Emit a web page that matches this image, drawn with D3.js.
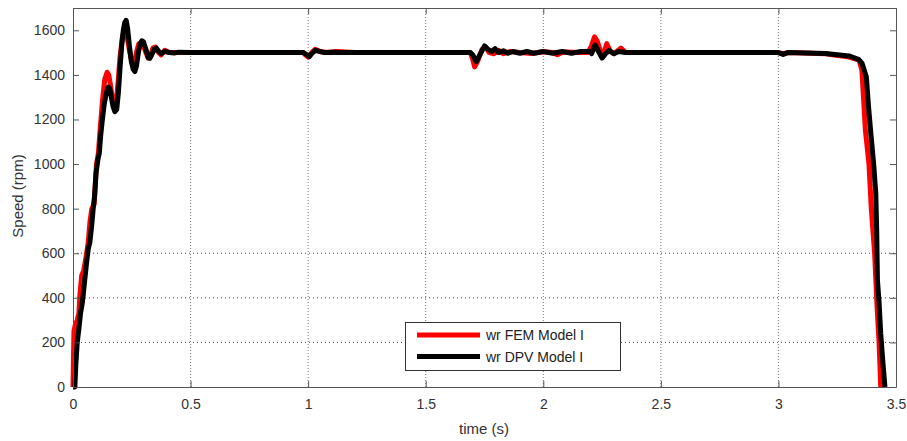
<!DOCTYPE html>
<html><head><meta charset="utf-8">
<script src="https://cdn.jsdelivr.net/npm/d3@7"></script>
<style>body{margin:0;background:#fff}svg{display:block}text{font-family:Arial,"Liberation Sans",sans-serif}</style>
</head><body><svg id="c" width="907" height="441"></svg>
<script>
const xTicks=[0,0.5,1,1.5,2,2.5,3,3.5];
const yTicks=[0,200,400,600,800,1000,1200,1400,1600];
const yGrid=[200,400,600];
const seriesNames=["wr FEM Model I","wr DPV Model I"];
const femT=[0,0.004,0.01,0.018,0.025,0.03,0.037,0.045,0.055,0.065,0.072,0.08,0.09,0.1,0.108,0.115,0.125,0.135,0.145,0.152,0.16,0.168,0.176,0.184,0.192,0.2,0.21,0.218,0.225,0.232,0.24,0.248,0.256,0.264,0.272,0.28,0.29,0.3,0.31,0.32,0.33,0.34,0.35,0.36,0.375,0.39,0.41,0.5,0.98,0.99,1.0,1.015,1.03,1.05,1.08,1.12,1.2,1.69,1.7,1.708,1.72,1.74,1.755,1.77,1.79,1.81,1.83,1.86,1.9,1.95,2.0,2.04,2.06,2.08,2.1,2.15,2.19,2.205,2.218,2.23,2.245,2.255,2.27,2.285,2.3,2.33,2.35,2.4,3.0,3.02,3.04,3.2,3.3,3.343,3.355,3.37,3.385,3.395,3.409,3.42,3.428,3.435];
const femV=[0,250,280,300,330,420,500,520,580,650,740,800,820,1000,1050,1150,1280,1380,1412,1400,1350,1290,1262,1280,1370,1480,1570,1600,1590,1560,1510,1470,1455,1470,1510,1540,1545,1530,1500,1475,1490,1520,1525,1505,1490,1510,1500,1500,1500,1488,1480,1500,1515,1505,1500,1505,1500,1500,1470,1436,1460,1515,1525,1500,1495,1510,1495,1505,1500,1496,1504,1500,1490,1500,1503,1500,1500,1530,1571,1550,1500,1490,1540,1505,1495,1520,1500,1500,1500,1495,1500,1495,1480,1466,1420,1150,1000,800,600,350,200,0];
const dpvT=[0,0.008,0.012,0.018,0.025,0.032,0.04,0.044,0.05,0.058,0.065,0.072,0.08,0.086,0.092,0.098,0.106,0.112,0.118,0.125,0.133,0.142,0.15,0.156,0.163,0.17,0.178,0.186,0.193,0.2,0.207,0.214,0.22,0.226,0.232,0.24,0.248,0.256,0.263,0.27,0.278,0.286,0.293,0.3,0.31,0.32,0.327,0.335,0.345,0.355,0.365,0.375,0.39,0.41,0.43,0.45,0.5,0.98,0.995,1.005,1.015,1.03,1.05,1.07,1.1,1.15,1.2,1.69,1.7,1.715,1.73,1.75,1.765,1.78,1.795,1.81,1.83,1.85,1.87,1.9,1.93,1.96,2.0,2.04,2.08,2.12,2.16,2.2,2.205,2.22,2.235,2.25,2.265,2.28,2.3,2.32,2.35,3.0,3.02,3.04,3.2,3.3,3.34,3.356,3.374,3.383,3.393,3.405,3.414,3.418,3.421,3.428,3.435,3.445,3.453];
const dpvV=[0,0,100,200,260,330,380,420,480,560,620,650,730,800,860,960,1020,1050,1130,1200,1270,1320,1345,1340,1300,1260,1235,1245,1320,1430,1530,1600,1635,1645,1610,1530,1460,1425,1415,1440,1500,1540,1553,1548,1515,1478,1474,1490,1515,1520,1505,1495,1505,1500,1498,1502,1500,1500,1490,1482,1495,1510,1505,1500,1502,1500,1500,1500,1490,1460,1490,1530,1515,1505,1518,1500,1508,1497,1505,1497,1505,1497,1505,1497,1505,1497,1505,1505,1495,1534,1505,1475,1495,1510,1495,1505,1500,1500,1492,1500,1496,1485,1470,1451,1391,1260,1138,1000,869,700,480,380,240,100,0];

const svg=d3.select("#c");
const M={l:73,r:896,t:8,b:387};
const x=d3.scaleLinear().domain([0,3.5]).range([M.l,M.r]);
const y=d3.scaleLinear().domain([0,1700]).range([M.b,M.t]);
const axisCol="#555", textCol="#333";

// grid
const g=svg.append("g");
g.selectAll(".vg").data(xTicks.filter(d=>d>0&&d<3.5)).join("line")
 .attr("x1",d=>x(d)).attr("x2",d=>x(d)).attr("y1",M.t).attr("y2",M.b)
 .attr("stroke","#777").attr("stroke-width",1).attr("stroke-dasharray","1,2");
g.selectAll(".hg").data(yGrid).join("line")
 .attr("x1",M.l).attr("x2",M.r).attr("y1",d=>y(d)).attr("y2",d=>y(d))
 .attr("stroke","#444").attr("stroke-width",1).attr("stroke-dasharray","1,3");

// lines
const lineGen=d3.line().x(d=>x(d[0])).y(d=>y(d[1]));
const fem=femT.map((t,i)=>[t,femV[i]]);
const dpv=dpvT.map((t,i)=>[t,dpvV[i]]);
svg.append("path").datum(fem).attr("d",lineGen).attr("fill","none").attr("stroke","#ff0000").attr("stroke-width",5).attr("stroke-linejoin","round");
svg.append("path").datum(dpv).attr("d",lineGen).attr("fill","none").attr("stroke","#000").attr("stroke-width",5).attr("stroke-linejoin","round");

// axes
const ax=svg.append("g");
ax.append("g").attr("transform",`translate(0,${M.b})`).call(d3.axisBottom(x).tickValues(xTicks).tickSizeInner(-6).tickSizeOuter(0).tickPadding(12).tickFormat(d3.format("")));
ax.append("g").attr("transform",`translate(0,${M.t})`).call(d3.axisTop(x).tickValues(xTicks).tickSizeInner(-6).tickSizeOuter(0).tickFormat(""));
ax.append("g").attr("transform",`translate(${M.l},0)`).call(d3.axisLeft(y).tickValues(yTicks).tickSizeInner(-6).tickSizeOuter(0).tickPadding(8).tickFormat(d3.format("d")));
ax.append("g").attr("transform",`translate(${M.r},0)`).call(d3.axisRight(y).tickValues(yTicks).tickSizeInner(-6).tickSizeOuter(0).tickFormat(""));
ax.selectAll("path.domain").attr("stroke",axisCol);
ax.selectAll(".tick line").attr("stroke",axisCol);
ax.selectAll(".tick text").attr("fill",textCol).style("font-size","14px").style("font-family","Arial, 'Liberation Sans', sans-serif");

// labels
svg.append("text").attr("x",484).attr("y",434).attr("text-anchor","middle").attr("fill",textCol).style("font-size","15px").text("time (s)");
svg.append("text").attr("transform",`translate(23,196) rotate(-90)`).attr("text-anchor","middle").attr("fill",textCol).style("font-size","15px").text("Speed (rpm)");

// legend
const lg=svg.append("g");
lg.append("rect").attr("x",405.5).attr("y",322.5).attr("width",215).attr("height",48).attr("fill","#fff").attr("stroke","#333");
const cols=["#ff0000","#000"];
seriesNames.forEach((n,i)=>{
  const yy=335+i*21.5;
  lg.append("line").attr("x1",417).attr("x2",480).attr("y1",yy).attr("y2",yy).attr("stroke",cols[i]).attr("stroke-width",5);
  lg.append("text").attr("x",486).attr("y",yy+5).attr("fill","#222").style("font-size","14px").text(n);
});
</script></body></html>
